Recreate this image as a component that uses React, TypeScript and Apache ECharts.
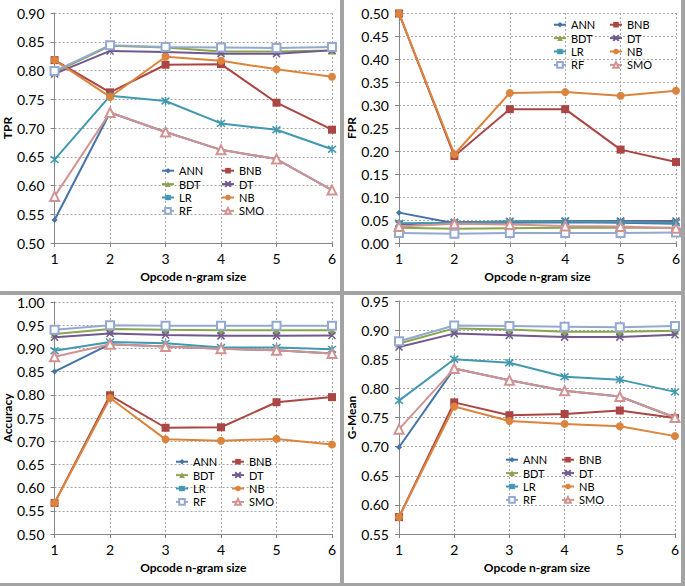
import React, { useEffect, useRef } from "react";
import * as echarts from "echarts";

const categories = ["1", "2", "3", "4", "5", "6"];
const seriesNames = ["ANN", "BNB", "BDT", "DT", "LR", "NB", "RF", "SMO"];

// TPR
const tprANN = [0.54, 0.727, 0.693, 0.662, 0.646, 0.592];
const tprBNB = [0.818, 0.762, 0.81, 0.811, 0.744, 0.697];
const tprBDT = [0.797, 0.843, 0.84, 0.833, 0.833, 0.835];
const tprDT = [0.794, 0.834, 0.832, 0.829, 0.829, 0.835];
const tprLR = [0.645, 0.756, 0.747, 0.708, 0.697, 0.663];
const tprNB = [0.818, 0.754, 0.824, 0.817, 0.802, 0.789];
const tprRF = [0.799, 0.844, 0.841, 0.84, 0.839, 0.841];
const tprSMO = [0.581, 0.727, 0.693, 0.662, 0.646, 0.592];

// FPR
const fprANN = [0.066, 0.043, 0.044, 0.045, 0.044, 0.042];
const fprBNB = [0.499, 0.189, 0.291, 0.291, 0.203, 0.176];
const fprBDT = [0.033, 0.031, 0.032, 0.033, 0.033, 0.033];
const fprDT = [0.04, 0.045, 0.047, 0.048, 0.048, 0.048];
const fprLR = [0.043, 0.044, 0.047, 0.047, 0.046, 0.044];
const fprNB = [0.499, 0.193, 0.326, 0.328, 0.32, 0.331];
const fprRF = [0.022, 0.02, 0.022, 0.022, 0.022, 0.023];
const fprSMO = [0.036, 0.042, 0.04, 0.037, 0.036, 0.032];

// Accuracy
const accANN = [0.85, 0.909, 0.904, 0.899, 0.896, 0.889];
const accBNB = [0.567, 0.799, 0.729, 0.73, 0.784, 0.795];
const accBDT = [0.931, 0.942, 0.94, 0.939, 0.939, 0.939];
const accDT = [0.924, 0.932, 0.929, 0.927, 0.927, 0.928];
const accLR = [0.895, 0.914, 0.911, 0.902, 0.902, 0.898];
const accNB = [0.567, 0.793, 0.704, 0.701, 0.705, 0.693];
const accRF = [0.94, 0.95, 0.949, 0.949, 0.949, 0.949];
const accSMO = [0.882, 0.909, 0.904, 0.899, 0.896, 0.889];

// G-Mean
const gmANN = [0.699, 0.834, 0.814, 0.796, 0.786, 0.75];
const gmBNB = [0.579, 0.776, 0.754, 0.756, 0.762, 0.749];
const gmBDT = [0.877, 0.903, 0.901, 0.897, 0.897, 0.899];
const gmDT = [0.871, 0.894, 0.891, 0.888, 0.888, 0.892];
const gmLR = [0.779, 0.85, 0.844, 0.82, 0.815, 0.794];
const gmNB = [0.579, 0.769, 0.744, 0.739, 0.735, 0.718];
const gmRF = [0.881, 0.908, 0.907, 0.906, 0.905, 0.907];
const gmSMO = [0.73, 0.834, 0.814, 0.796, 0.786, 0.75];

const panels = [
  { title: "TPR", min: 0.5, max: 0.9, data: [tprANN, tprBNB, tprBDT, tprDT, tprLR, tprNB, tprRF, tprSMO] },
  { title: "FPR", min: 0.0, max: 0.5, data: [fprANN, fprBNB, fprBDT, fprDT, fprLR, fprNB, fprRF, fprSMO] },
  { title: "Accuracy", min: 0.5, max: 1.0, data: [accANN, accBNB, accBDT, accDT, accLR, accNB, accRF, accSMO] },
  { title: "G-Mean", min: 0.55, max: 0.95, data: [gmANN, gmBNB, gmBDT, gmDT, gmLR, gmNB, gmRF, gmSMO] },
];

const colors = ["#4572A7", "#AA4643", "#89A54E", "#71588F", "#4198AF", "#DB843D", "#93A9CF", "#D19392"];

const FONT = "Lato";

export default function App() {
  const ref = useRef<HTMLDivElement>(null);
  useEffect(() => {
    if (!ref.current) return;
    const chart = echarts.init(ref.current, null, { renderer: "svg" });

    const grids = [
      { left: 54, top: 13, width: 278, height: 230 },
      { left: 399, top: 13, width: 277, height: 230 },
      { left: 54, top: 302, width: 278, height: 232 },
      { left: 399, top: 301, width: 276, height: 233 },
    ];
    const nameGaps = [32, 33, 33, 36];

    const symbolFor = (name: string, c: string) => {
      switch (name) {
        case "ANN":
          return { symbol: "diamond", symbolSize: 6, itemStyle: { color: c } };
        case "BNB":
          return { symbol: "rect", symbolSize: 8, itemStyle: { color: c } };
        case "BDT":
          return { symbol: "triangle", symbolSize: 8, itemStyle: { color: c } };
        case "DT":
          return {
            symbol: "path://M0,0L10,10M10,0L0,10",
            symbolSize: 7,
            itemStyle: { color: c, borderColor: c, borderWidth: 1.5 },
          };
        case "LR":
          return {
            symbol: "path://M0,0L10,10M10,0L0,10M5,-1L5,11",
            symbolSize: 8,
            itemStyle: { color: c, borderColor: c, borderWidth: 1.5 },
          };
        case "NB":
          return { symbol: "circle", symbolSize: 8, itemStyle: { color: c } };
        case "RF":
          return { symbol: "emptyRect", symbolSize: 8, itemStyle: { color: c, borderColor: c, borderWidth: 1.5 } };
        default:
          return { symbol: "emptyTriangle", symbolSize: 9, itemStyle: { color: c, borderColor: c, borderWidth: 1.5 } };
      }
    };

    const series: any[] = [];
    panels.forEach((p, pi) => {
      seriesNames.forEach((n, si) => {
        const c = colors[si];
        series.push({
          type: "line",
          name: n,
          xAxisIndex: pi,
          yAxisIndex: pi,
          data: p.data[si],
          showAllSymbol: true,
          lineStyle: { color: c, width: 2 },
          ...symbolFor(n, c),
          z: 2 + si * 0.01,
        });
      });
    });

    const ICON_W = 12;
    // left, top, text width per panel legend
    const legendPos = [
      [161, 164, 42],
      [553, 18, 38],
      [175, 455, 38],
      [505, 453, 38],
    ];
    const legends: any[] = legendPos.map(([left, top, tw]) => ({
      orient: "horizontal",
      align: "left",
      left,
      top,
      width: 2 * (ICON_W + 5 + tw) + 2,
      data: seriesNames,
      selectedMode: false,
      itemWidth: ICON_W,
      itemHeight: 7,
      itemGap: 0,
      padding: 0,
      textStyle: {
        fontFamily: FONT,
        fontSize: 11,
        color: "#000",
        lineHeight: 13.4,
        width: tw,
        overflow: "none",
      },
    }));

    const option: any = {
      animation: false,
      backgroundColor: "#fff",
      grid: grids,
      legend: legends,
      xAxis: grids.map((_, i) => ({
        type: "category",
        gridIndex: i,
        data: categories,
        boundaryGap: false,
        name: "Opcode n-gram size",
        nameLocation: "middle",
        nameGap: 27,
        nameTextStyle: { fontFamily: FONT, fontSize: 12, fontWeight: "bold", color: "#000" },
        axisLine: { show: true, lineStyle: { color: "#868686", width: 1 } },
        axisTick: { show: true, length: 4, alignWithLabel: true, lineStyle: { color: "#868686" } },
        axisLabel: { fontFamily: FONT, fontSize: 14, color: "#000", margin: 8 },
        splitLine: { show: true, lineStyle: { color: "#a6a6a6", type: [2, 2], width: 1 } },
      })),
      yAxis: panels.map((p, i) => ({
        type: "value",
        gridIndex: i,
        min: p.min,
        max: p.max,
        interval: 0.05,
        name: p.title,
        nameLocation: "middle",
        nameGap: nameGaps[i],
        nameTextStyle: { fontFamily: FONT, fontSize: 12, fontWeight: "bold", color: "#000" },
        axisLine: { show: true, lineStyle: { color: "#868686", width: 1 } },
        axisTick: { show: true, length: 4, lineStyle: { color: "#868686" } },
        axisLabel: {
          fontFamily: FONT,
          fontSize: 14,
          color: "#000",
          margin: 10,
          formatter: (v: number) => v.toFixed(2),
        },
        splitLine: { show: true, lineStyle: { color: "#a6a6a6", type: [2, 2], width: 1 } },
      })),
      series,
      graphic: [
        { type: "rect", shape: { x: 340, y: 0, width: 4, height: 586 }, style: { fill: "#a3a3a3" }, silent: true },
        { type: "rect", shape: { x: 0, y: 291, width: 685, height: 4 }, style: { fill: "#a3a3a3" }, silent: true },
        { type: "rect", shape: { x: 681, y: 0, width: 4, height: 586 }, style: { fill: "#a3a3a3" }, silent: true },
        { type: "rect", shape: { x: 0, y: 583, width: 685, height: 3 }, style: { fill: "#a3a3a3" }, silent: true },
      ],
    };
    chart.setOption(option);
    return () => chart.dispose();
  }, []);

  return (
    <div
      ref={ref}
      style={{ position: "fixed", left: 0, top: 0, width: 685, height: 586 }}
    />
  );
}
